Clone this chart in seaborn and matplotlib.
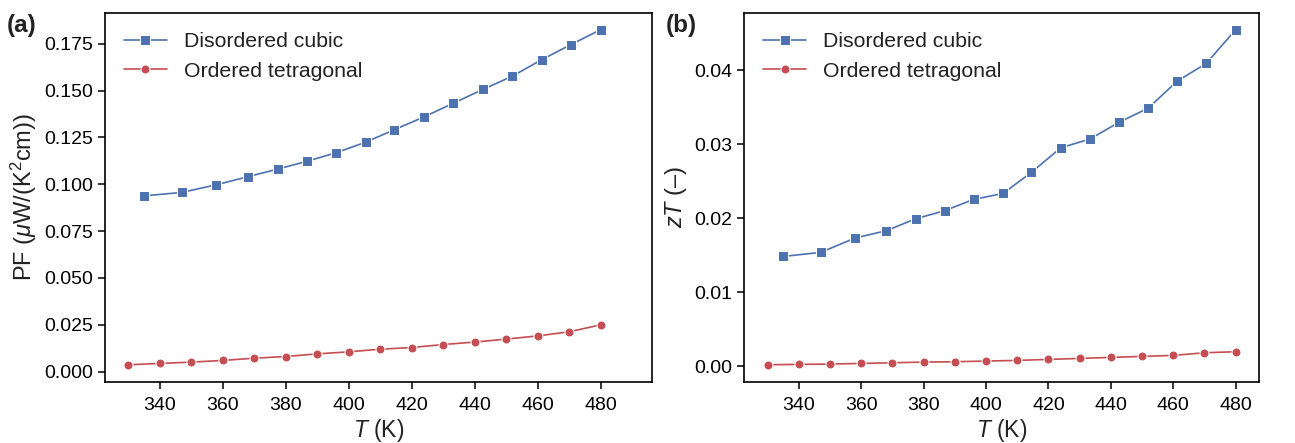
import pandas as pd
import seaborn as sns
import matplotlib.pyplot as plt


# Data
T_cubic = [335, 347, 358, 368, 377.5, 386.7, 396, 405.5, 414.5, 424, 433.3, 442.6, 452, 461.3, 470.6, 480]
pf_cubic = [0.0938, 0.0956, 0.0997, 0.1040, 0.1081, 0.1122, 0.1168, 0.1225, 0.1291, 0.1360,
            0.1433, 0.1506, 0.1577, 0.1665, 0.1746, 0.1825]
zt_cubic = [0.01482, 0.01536, 0.01730, 0.01829, 0.01991, 0.02099, 0.02252, 0.02333, 0.02617, 0.02950,
            0.03068, 0.03293, 0.03486, 0.03851, 0.04090, 0.04545]

T_tet = [330, 340, 350, 360, 370, 380, 390, 400, 410, 420, 430, 440, 450, 460, 470, 480]
pf_tet = [0.0036, 0.0043, 0.0050, 0.0059, 0.0071, 0.0080, 0.0094, 0.0105, 0.0119, 0.0128,
          0.0144, 0.0157, 0.0173, 0.0190, 0.0212, 0.0249]
zt_tet = [0.00018, 0.00023, 0.00027, 0.00036, 0.00045, 0.00054, 0.00059, 0.00068, 0.00077, 0.00090,
          0.00104, 0.00117, 0.00131, 0.00144, 0.00180, 0.00194]

labels = ["Disordered cubic", "Ordered tetragonal"]

df_cubic = pd.DataFrame({"T": T_cubic, "PF": pf_cubic, "zT": zt_cubic})
df_tet = pd.DataFrame({"T": T_tet, "PF": pf_tet, "zT": zt_tet})


sns.set_theme(style="ticks")
plt.rcParams["font.family"] = ["Liberation Sans", "DejaVu Sans"]
plt.rcParams["mathtext.fontset"] = "custom"
plt.rcParams["mathtext.rm"] = "Liberation Sans"
plt.rcParams["mathtext.it"] = "Liberation Sans:italic"
plt.rcParams["mathtext.bf"] = "Liberation Sans:bold"
plt.rcParams["axes.edgecolor"] = "black"
plt.rcParams["xtick.color"] = "black"
plt.rcParams["ytick.color"] = "black"
plt.rcParams["text.color"] = "#222222"
plt.rcParams["axes.labelcolor"] = "#222222"

blue = "#4C72B0"
red = "#C44E52"

fig, axes = plt.subplots(1, 2, figsize=(12.95, 4.43), dpi=100)

panels = [("PF", "PF ($\\mu$W/(K$^2$cm))"), ("zT", "$zT$ (\u2013)")]

for ax, (col, ylab) in zip(axes, panels):
    sns.lineplot(data=df_cubic, x="T", y=col, marker="s", markersize=6.5, color=blue,
                 linewidth=1.2, label=labels[0], ax=ax)
    sns.lineplot(data=df_tet, x="T", y=col, marker="o", markersize=6.5, color=red,
                 linewidth=1.2, label=labels[1], ax=ax)
    ax.set_xlabel("$T$ (K)", fontsize=16.5, labelpad=2)
    ax.set_ylabel(ylab, fontsize=17)
    ax.tick_params(labelsize=14, width=1.1, length=5)
    ax.tick_params(axis="x", pad=6)
    for s in ax.spines.values():
        s.set_linewidth(1.2)
    ax.set_xticks([340, 360, 380, 400, 420, 440, 460, 480])
    ax.legend(loc="upper left", frameon=False, fontsize=15.3)

axes[0].set_xlim(322.7, 496.4)
axes[1].set_xlim(322.5, 487.5)

axes[0].set_position([0.0811, 0.1388, 0.4226, 0.8319])
axes[1].set_position([0.5747, 0.1388, 0.3975, 0.8319])

fig.text(0.005, 0.968, "(a)", fontsize=17.5, fontweight="bold", va="top", ha="left")
fig.text(0.514, 0.968, "(b)", fontsize=17.5, fontweight="bold", va="top", ha="left")

plt.savefig("out.png", dpi=100)
plt.close()
